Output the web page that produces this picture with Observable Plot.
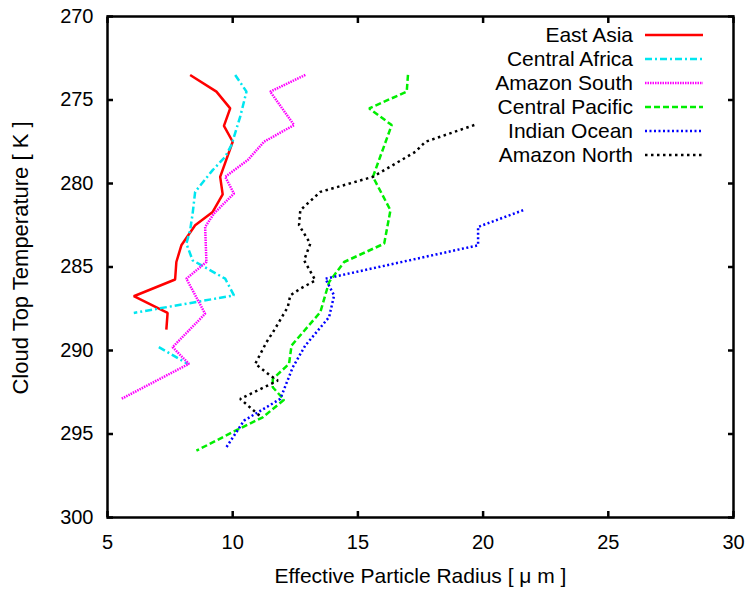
<!DOCTYPE html>
<html>
<head>
<meta charset="utf-8">
<script src="https://cdn.jsdelivr.net/npm/d3@7"></script>
<script src="https://cdn.jsdelivr.net/npm/@observablehq/plot@0.6"></script>
<style>
  html, body { margin: 0; padding: 0; background: #fff; }
  #wrap { position: relative; width: 745px; height: 590px; font-family: "Liberation Sans", Arial, sans-serif; }
  #legend { position: absolute; left: 400px; top: 23px; }
  .row { display: flex; align-items: center; height: 24px; }
  .row span { display: inline-block; width: 233px; text-align: right; font-size: 21px; color: #000; line-height: 24px; }
  .row svg { margin-left: 12px; }
</style>
</head>
<body>
<div id="wrap"></div>
<script>
// ---- data ----
const xTicks = [5, 10, 15, 20, 25, 30];
const yTicks = [270, 275, 280, 285, 290, 295, 300];

const seriesNames = ["East Asia", "Central Africa", "Amazon South", "Central Pacific", "Indian Ocean", "Amazon North"];
const seriesColors = ["#ff0000", "#00e6f0", "#ff00ff", "#00ee00", "#0000ff", "#000000"];
const seriesDashes = ["none", "7,3,2,3", "1.5,1", "6,3", "2,2.5", "2.5,3.5"];

const eastAsiaR = [8.3, 9.35, 9.9, 9.65, 10.0, 9.5, 9.6, 9.2, 8.5, 7.95, 7.75, 7.7, 6.05, 7.4, 7.35];
const eastAsiaT = [273.5, 274.5, 275.5, 276.55, 277.5, 279.6, 280.65, 281.7, 282.5, 283.7, 284.7, 285.75, 286.75, 287.75, 288.75];

const centralAfricaR = [10.1, 10.55, 10.3, 9.95, 9.7, 9.2, 8.5, 8.4, 8.3, 8.15, 8.4, 9.7, 10.05, 6.05, null, 7.05, 8.2];
const centralAfricaT = [273.5, 274.5, 276.0, 277.7, 278.4, 279.2, 280.5, 281.8, 282.8, 283.6, 284.6, 285.7, 286.7, 287.75, 288.8, 289.8, 290.8];

const amazonSouthR = [12.9, 11.5, 12.45, 11.25, 10.6, 9.7, 10.05, 9.25, 8.9, 8.95, 8.15, 8.9, 7.6, 8.25, 5.55];
const amazonSouthT = [273.5, 274.5, 276.5, 277.5, 278.6, 279.6, 280.6, 281.8, 282.6, 284.7, 285.7, 287.8, 289.8, 290.8, 292.9];

const centralPacificR = [17.0, 16.95, 15.45, 16.35, 15.6, 16.3, 16.05, 14.45, 13.85, 13.5, 12.35, 12.25, 11.6, 11.6, 12.05, 11.2, 10.05, 8.55];
const centralPacificT = [273.5, 274.5, 275.5, 276.5, 279.6, 281.6, 283.6, 284.7, 285.9, 287.7, 289.7, 290.8, 291.7, 292.2, 292.95, 294.0, 294.85, 296.0];

const indianOceanR = [21.6, 19.8, 19.8, 13.7, 14.05, 13.85, 12.9, 12.4, 11.9, 10.45, 9.7];
const indianOceanT = [281.6, 282.6, 283.7, 285.7, 286.7, 288.0, 289.7, 291.0, 292.9, 294.2, 295.9];

const amazonNorthR = [19.65, 17.7, 17.3, 15.6, 13.5, 12.7, 12.65, 13.1, 12.85, 13.3, 12.7, 12.3, 12.2, 11.65, 11.35, 10.9, 11.5, 11.8, 10.3, 11.15];
const amazonNorthT = [276.5, 277.5, 278.1, 279.6, 280.5, 281.6, 282.5, 283.6, 284.6, 285.8, 286.3, 286.7, 287.4, 288.8, 289.5, 290.8, 291.5, 291.8, 292.9, 294.0];

const xLabel = "Effective Particle Radius [ \u03BC m ]";
const yLabel = "Cloud Top Temperature [ K ]";

// ---- build ----
const seriesR = [eastAsiaR, centralAfricaR, amazonSouthR, centralPacificR, indianOceanR, amazonNorthR];
const seriesT = [eastAsiaT, centralAfricaT, amazonSouthT, centralPacificT, indianOceanT, amazonNorthT];

const lineMarks = seriesNames.map((name, k) => {
  const rows = seriesR[k].map((r, i) => ({r, t: seriesT[k][i]}));
  return Plot.line(rows, {
    x: "r", y: "t",
    stroke: seriesColors[k],
    strokeWidth: 2.5,
    strokeDasharray: seriesDashes[k] === "none" ? null : seriesDashes[k],
    strokeLinecap: "butt",
    strokeLinejoin: "miter"
  });
});

const chart = Plot.plot({
  width: 745,
  height: 590,
  marginLeft: 107,
  marginRight: 12,
  marginTop: 16,
  marginBottom: 73,
  x: {domain: [5, 30]},
  y: {domain: [300, 270]},
  style: {fontFamily: "'Liberation Sans', Arial, sans-serif", background: "#fff", color: "#000", overflow: "visible"},
  marks: [
    ...lineMarks,
    Plot.axisX(xTicks, {anchor: "bottom", tickSize: -6, tickPadding: 23, strokeWidth: 2.5, fontSize: 20, label: null}),
    Plot.axisX(xTicks, {anchor: "top", tickSize: -6, tickFormat: () => "", strokeWidth: 2.5, label: null}),
    Plot.axisY(yTicks, {anchor: "left", tickSize: -6, tickPadding: 20, strokeWidth: 2.5, fontSize: 20, label: null}),
    Plot.axisY(yTicks, {anchor: "right", tickSize: -6, tickFormat: () => "", strokeWidth: 2.5, label: null}),
    Plot.frame({stroke: "#000", strokeWidth: 2.5}),
    Plot.text([xLabel], {frameAnchor: "bottom", dy: 65, fontSize: 21, fill: "#000"}),
    Plot.text([yLabel], {frameAnchor: "left", textAnchor: "middle", rotate: -90, dx: -87, dy: -9, fontSize: 22, fill: "#000"})
  ]
});

const wrap = document.getElementById("wrap");
wrap.appendChild(chart);

// legend (HTML overlay inside the plot frame)
const legend = document.createElement("div");
legend.id = "legend";
seriesNames.forEach((name, k) => {
  const row = document.createElement("div");
  row.className = "row";
  const span = document.createElement("span");
  span.textContent = name;
  row.appendChild(span);
  const svg = d3.create("svg").attr("width", 58).attr("height", 24);
  svg.append("line")
    .attr("x1", 0).attr("x2", 58).attr("y1", 12).attr("y2", 12)
    .attr("stroke", seriesColors[k])
    .attr("stroke-width", 2.5)
    .attr("stroke-dasharray", seriesDashes[k] === "none" ? null : seriesDashes[k]);
  row.appendChild(svg.node());
  legend.appendChild(row);
});
wrap.appendChild(legend);
</script>
</body>
</html>
